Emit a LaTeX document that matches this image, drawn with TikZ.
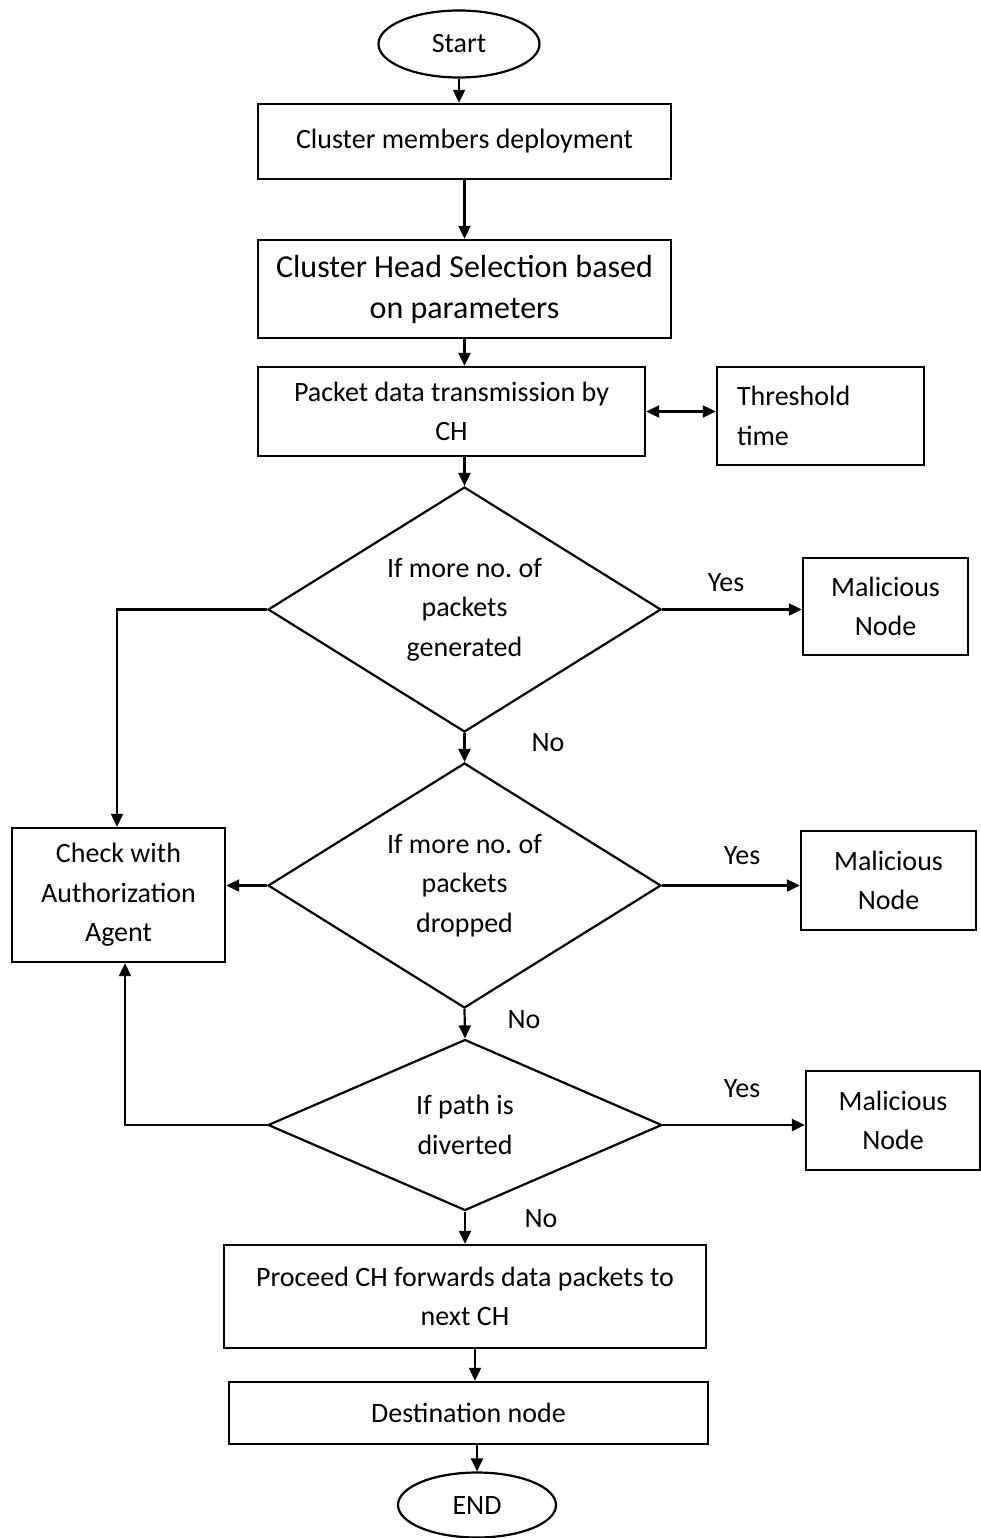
\documentclass[tikz,border=0pt]{standalone}
\usepackage{fontspec}
\setmainfont{Carlito}
\usetikzlibrary{shapes.geometric,arrows.meta,calc}
\frenchspacing
\begin{document}
\begin{tikzpicture}[x=1pt,y=-1pt,
  txt/.style={font=\fontsize{28}{39.5}\selectfont},
  box/.style={draw,line width=2.4pt,inner sep=0pt,align=center,txt},
  term/.style={draw,ellipse,line width=2.2pt,inner sep=0pt,txt},
  dec/.style={draw,diamond,aspect=1.6,line width=2.2pt,inner sep=0pt,align=center,txt},
  lbl/.style={inner sep=0pt,txt},
  arr/.style={line width=2.2pt,-{Triangle[length=13pt,width=12pt]}},
  dbl/.style={line width=2.2pt,{Triangle[length=13pt,width=12pt]}-{Triangle[length=13pt,width=12pt]}},
  ln/.style={line width=2.2pt}]
\fill[white] (0,0) rectangle (981,1538);
\useasboundingbox (0,0) rectangle (981,1538);

\node[term, minimum width=161, minimum height=67] (start) at (459,44) {Start};
\node[box, minimum width=413, minimum height=75] (b1) at (464.5,141.5) {Cluster members deployment};
\node[box, minimum width=413, minimum height=98, font=\fontsize{32}{41}\selectfont] (b2) at (464.5,289) {Cluster Head Selection based\\on parameters};
\node[box, minimum width=387, minimum height=89] (b3) at (451.5,411.5) {Packet data transmission by\\CH};
\node[box, minimum width=207, minimum height=98, text width=167, align=left] (thr) at (820.5,416) {Threshold\\time};

\node[dec, minimum width=393, minimum height=245] (d1) at (464.5,609.5) {If more no. of\\packets\\generated};
\node[box, minimum width=165, minimum height=97] (m1) at (885.5,606.5) {Malicious\\Node};
\node[box, minimum width=213, minimum height=134] (chk) at (118.5,895) {Check with\\Authorization\\Agent};
\node[dec, minimum width=393, minimum height=245] (d2) at (464.5,885.5) {If more no. of\\packets\\dropped};
\node[box, minimum width=175, minimum height=99] (m2) at (888.5,880.5) {Malicious\\Node};
\node[dec, minimum width=394, minimum height=171] (d3) at (465,1125) {If path is\\diverted};
\node[box, minimum width=174, minimum height=99] (m3) at (893,1120.5) {Malicious\\Node};
\node[box, minimum width=482, minimum height=103] (pr) at (465,1296.5) {Proceed CH forwards data packets to\\next CH};
\node[box, minimum width=479, minimum height=62] (dst) at (468.5,1413) {Destination node};
\node[term, minimum width=158, minimum height=65] (end) at (477,1505) {END};

\node[lbl] (y1) at (726,583) {Yes};
\node[lbl] (n1) at (548,743) {No};
\node[lbl] (y2) at (742,856) {Yes};
\node[lbl] (n2) at (524,1020) {No};
\node[lbl] (y3) at (742,1089) {Yes};
\node[lbl] (n3) at (541,1219) {No};

\draw[arr] (start.south) -- (start.south |- b1.north);
\draw[arr] (b1.south) -- (b2.north);
\draw[arr] (b2.south) -- (b2.south |- b3.north);
\draw[arr] (d1.north |- b3.south) -- (d1.north);
\draw[dbl] (b3.east) -- (b3.east -| thr.west);
\draw[arr] (d1.east) -- (d1.east -| m1.west);
\draw[arr] (d1.west) -| ([xshift=-1.5]chk.north);
\draw[arr] (d1.south) -- (d2.north);
\draw[arr] (d2.west) -- (d2.west -| chk.east);
\draw[arr] (d2.east) -- (d2.east -| m2.west);
\draw[arr] (d2.south) -- (d3.north);
\draw[arr] (d3.west) -| ([xshift=6.5]chk.south);
\draw[arr] (d3.east) -- (d3.east -| m3.west);
\draw[arr] (d3.south) -- (pr.north);
\draw[arr] ([xshift=10]pr.south) -- ([xshift=10]pr.south |- dst.north);
\draw[arr] (dst.south -| end.north) -- (end.north);
\end{tikzpicture}
\end{document}
